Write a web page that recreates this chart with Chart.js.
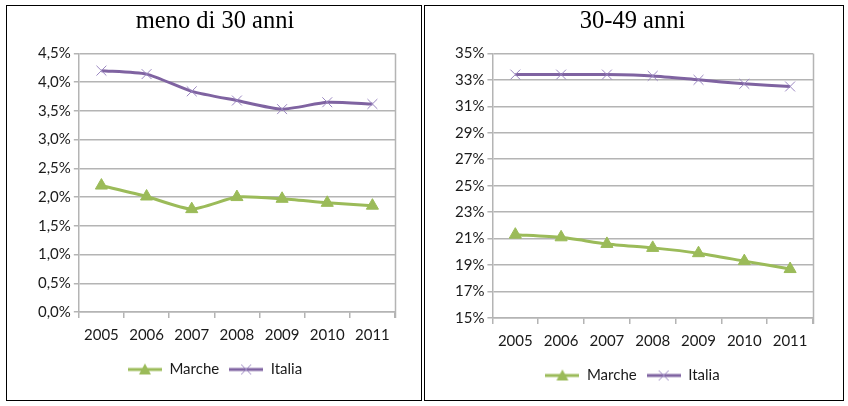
<!DOCTYPE html>
<html>
<head>
<meta charset="utf-8">
<script src="https://cdn.jsdelivr.net/npm/chart.js@4.4.1/dist/chart.umd.min.js"></script>
<style>
  html, body { margin: 0; padding: 0; background: #fff; }
  body { width: 848px; height: 406px; position: relative; overflow: hidden; }
  .panel { position: absolute; top: 5px; height: 394px; border: 1px solid #000; background: #fff; }
  #p1 { left: 6px; width: 414px; }
  #p2 { left: 424px; width: 418px; }
  canvas { display: block; }
</style>
</head>
<body>
<div class="panel" id="p1"><canvas id="chartYoung"></canvas></div>
<div class="panel" id="p2"><canvas id="chartMid"></canvas></div>
<script>
// ─── Data ─────────────────────────────────────────────────────────
const years = ['2005', '2006', '2007', '2008', '2009', '2010', '2011'];

const under30Marche = [2.20, 2.01, 1.79, 2.00, 1.97, 1.90, 1.85];
const under30Italia = [4.20, 4.14, 3.84, 3.68, 3.53, 3.65, 3.62];

const age3049Marche = [21.3, 21.1, 20.6, 20.3, 19.9, 19.3, 18.7];
const age3049Italia = [33.4, 33.4, 33.4, 33.3, 33.0, 32.7, 32.5];

const COLORS = {
  marche: '#9BBB59',
  italia: '#7F63A1',
  italiaMark: '#9A86C0',
  grid: '#B4B4B4',
  text: '#1a1a1a',
};
const TICK_FONT = { family: 'Lato, "Open Sans", sans-serif', size: 15 };

// legend swatch: short line with the marker on it
function swatch(kind) {
  const c = document.createElement('canvas');
  c.width = 34; c.height = 14;
  const g = c.getContext('2d');
  g.lineWidth = 3;
  g.strokeStyle = kind === 'marche' ? COLORS.marche : COLORS.italia;
  g.beginPath(); g.moveTo(0, 7); g.lineTo(34, 7); g.stroke();
  if (kind === 'marche') {
    g.fillStyle = COLORS.marche;
    g.beginPath(); g.moveTo(17, 1); g.lineTo(23, 12); g.lineTo(11, 12); g.closePath(); g.fill();
  } else {
    g.strokeStyle = COLORS.italiaMark; g.lineWidth = 1;
    g.beginPath();
    g.moveTo(12, 2); g.lineTo(22, 12); g.moveTo(22, 2); g.lineTo(12, 12);
    g.stroke();
  }
  return c;
}

// right edge of the plot area
const plotFrame = {
  id: 'plotFrame',
  afterDraw(chart) {
    const { ctx, chartArea: a } = chart;
    ctx.save();
    ctx.strokeStyle = COLORS.grid;
    ctx.lineWidth = 1.5;
    ctx.beginPath();
    ctx.moveTo(Math.round(a.right) + 0.5, a.top);
    ctx.lineTo(Math.round(a.right) + 0.5, a.bottom + 6);
    ctx.stroke();
    ctx.restore();
  }
};

function makeChart(id, w, h, title, marche, italia, yMin, yMax, yStep, fmt, pad) {
  const el = document.getElementById(id);
  el.width = w; el.height = h;
  el.style.width = w + 'px'; el.style.height = h + 'px';
  return new Chart(el, {
    type: 'line',
    data: {
      labels: years,
      datasets: [
        {
          label: 'Marche',
          data: marche,
          borderColor: COLORS.marche,
          backgroundColor: COLORS.marche,
          borderWidth: 3,
          tension: 0.2,
          pointStyle: 'triangle',
          pointRadius: 7,
          pointBorderWidth: 1,
        },
        {
          label: 'Italia',
          data: italia,
          borderColor: COLORS.italia,
          backgroundColor: COLORS.italia,
          borderWidth: 3,
          tension: 0.2,
          pointStyle: 'crossRot',
          pointRadius: 7,
          pointBorderWidth: 1,
          pointBorderColor: COLORS.italiaMark,
        }
      ]
    },
    options: {
      responsive: false,
      animation: false,
      layout: { padding: pad },
      plugins: {
        title: {
          display: true,
          text: title,
          color: '#000',
          font: { family: '"Liberation Serif", "Times New Roman", serif', size: 24.5, weight: 'normal' },
          padding: { top: 1, bottom: 17 },
        },
        legend: {
          position: 'bottom',
          labels: {
            color: COLORS.text,
            font: TICK_FONT,
            usePointStyle: true,
            pointStyleWidth: 34,
            padding: 10,
            generateLabels: chart => chart.data.datasets.map((ds, i) => ({
              text: ds.label,
              pointStyle: swatch(i === 0 ? 'marche' : 'italia'),
              fontColor: COLORS.text,
              lineWidth: 0,
              datasetIndex: i,
            })),
          }
        },
        tooltip: { enabled: false },
      },
      scales: {
        x: {
          offset: true,
          grid: { offset: true, drawOnChartArea: false, drawTicks: true, tickLength: 6, color: COLORS.grid, lineWidth: 1.5 },
          border: { color: COLORS.grid, width: 1.5 },
          ticks: { color: COLORS.text, font: TICK_FONT, padding: 8, maxRotation: 0 },
        },
        y: {
          min: yMin,
          max: yMax,
          grid: { color: COLORS.grid, lineWidth: 1.5, tickLength: 5 },
          border: { color: COLORS.grid, width: 1.5 },
          ticks: { color: COLORS.text, font: TICK_FONT, padding: 3, stepSize: yStep, callback: fmt },
        },
      }
    },
    plugins: [plotFrame]
  });
}

makeChart('chartYoung', 414, 394, 'meno di 30 anni', under30Marche, under30Italia,
  0, 4.5, 0.5,
  v => v.toFixed(1).replace('.', ',') + '%',
  { left: 28, right: 26, top: 0, bottom: 13 });

makeChart('chartMid', 418, 394, '30-49 anni', age3049Marche, age3049Italia,
  15, 35, 2,
  v => v.toFixed(0) + '%',
  { left: 27, right: 30, top: 0, bottom: 7 });
</script>
</body>
</html>
